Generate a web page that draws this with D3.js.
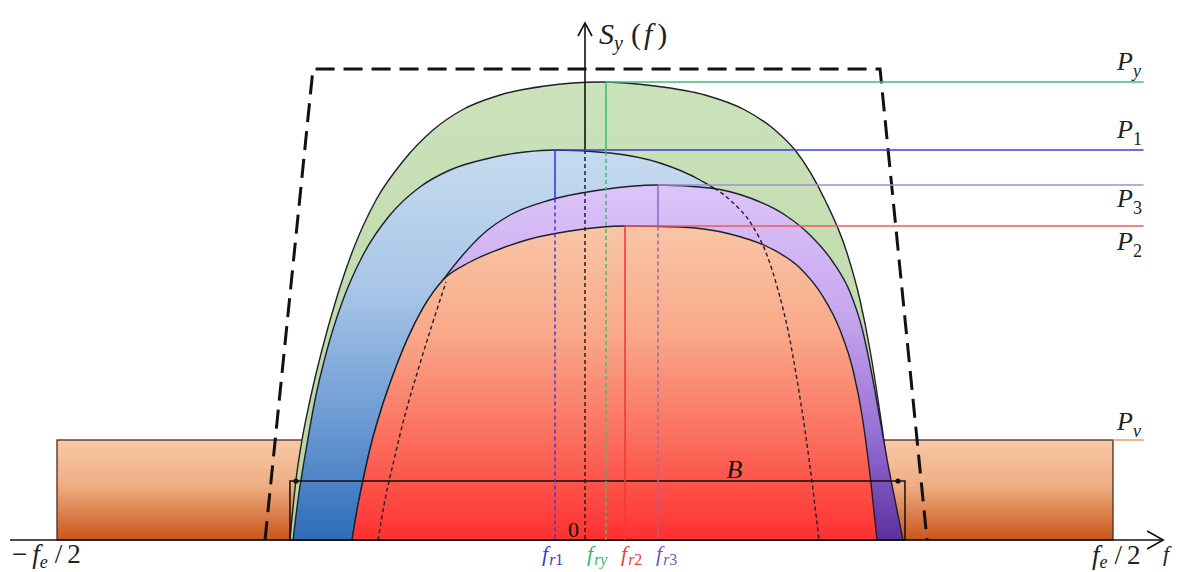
<!DOCTYPE html>
<html><head><meta charset="utf-8">
<script src="https://cdn.jsdelivr.net/npm/d3@7"></script>
<style>html,body{margin:0;padding:0;background:#fff;} svg{display:block;}</style>
</head><body>
<svg id="chart" width="1177" height="572"></svg>
<script>
// ---------- data (f in % of fe, S in arbitrary power units) ----------
const spectrumPy = [[-27.94,0],[-27.37,12],[-26.80,20],[-26.04,28],[-24.91,38],[-23.58,48],[-21.97,58],[-19.79,68],[-17.14,76],[-14.39,82],[-11.65,86],[-8.05,89],[-3.79,90.8],[1.42,91.6],[6.63,90.8],[11.36,89],[15.15,86],[17.99,82],[19.89,78],[22.73,68],[24.72,58],[26.04,48],[26.99,38],[27.75,28],[28.41,18],[28.88,8],[29.26,0]];
const spectrumP1 = [[-27.65,0],[-27.18,8],[-26.42,18],[-25.57,28],[-24.43,38],[-22.92,48],[-21.02,57],[-18.47,65],[-15.63,70.6],[-12.78,74],[-9.00,76.4],[-5.68,77.6],[-2.84,78],[2.37,77.4],[7.10,75.4],[10.89,72],[13.73,68],[15.81,63],[17.23,57],[18.28,50],[19.22,42],[20.08,32],[20.83,22],[21.59,10],[22.16,0]];
const spectrumP3 = [[-22.06,0],[-21.59,6],[-21.02,12],[-20.27,19],[-19.32,26],[-18.18,33],[-16.86,40],[-15.34,46.4],[-13.45,52],[-11.65,56.8],[-9.66,61.2],[-7.10,65],[-3.31,68],[1.42,70],[6.91,71],[11.84,70.4],[15.63,68.4],[18.94,65],[21.31,61],[23.48,55.6],[25.09,49.6],[26.23,42.4],[27.18,33],[28.03,23],[28.79,14],[29.45,7],[30.11,0]];
const spectrumP2 = [[-22.06,0],[-21.59,6],[-21.02,12],[-20.27,19],[-19.32,26],[-18.18,33],[-16.86,40],[-15.34,46.4],[-13.45,52],[-10.89,55.6],[-8.05,58.2],[-5.21,60.2],[-1.42,61.8],[3.79,62.8],[9.00,62.6],[13.73,61.2],[17.52,58.4],[20.36,54.4],[22.44,49],[24.15,42],[25.38,34],[26.23,25],[26.99,13],[27.65,0]];
const hiddenEdgeP2 = [[-19.60,0],[-18.94,8],[-18.09,16],[-17.05,25],[-15.81,34],[-14.49,43],[-13.16,51.6]];
const filterMask = [[-30.30,0],[-25.76,94.2],[27.94,94.2],[32.39,0]];
const noiseBand = {f0:-50, f1:50, level:20};
const bandB = {f0:-27.94, f1:30.30, level:11.8, a0:-27.37, a1:29.64};
const levelNames = ["y","1","3","2","v"];
const levelValues = [91.6, 78, 71, 62.8, 20];
const levelStartF = [1.99, -2.84, 6.91, 3.79, 50];
const levelEndF = 52.9;
const peakNames = ["r1","ry","r2","r3"];
const peakF = [-2.84, 1.99, 3.79, 6.91];
const peakTop = [78, 91.6, 62.8, 71];
const peakSolidTo = [68.3, 77.6, 0, 62.7];

// ---------- scales ----------
const svg = d3.select("#chart");
const x = d3.scaleLinear().domain([-50,50]).range([57,1113]);
const y = d3.scaleLinear().domain([0,100]).range([540,40]);
const smooth = d3.line().x(d=>x(d[0])).y(d=>y(d[1])).curve(d3.curveMonotoneX);
const straight = d3.line().x(d=>x(d[0])).y(d=>y(d[1]));
const FONT = "'Liberation Serif','DejaVu Serif',serif";

const defs = svg.append("defs");
function grad(id, stops, top){
  const g = defs.append("linearGradient").attr("id",id).attr("gradientUnits","userSpaceOnUse")
    .attr("x1",0).attr("x2",0).attr("y1",y(top)).attr("y2",y(0));
  stops.forEach(s=>g.append("stop").attr("offset",s[0]).attr("stop-color",s[1]));
}
grad("gNoise",[[0,"#f8c9a6"],[0.45,"#efae84"],[1,"#c9561a"]],noiseBand.level);
grad("gPy",[[0,"#cbe2bb"],[1,"#b6d69e"]],91.6);
grad("gP1",[[0,"#c6dbf0"],[0.35,"#a9c6e8"],[0.7,"#6b9ad3"],[1,"#2d6db8"]],78);
grad("gP3",[[0,"#dcc4f8"],[0.35,"#c9a8f0"],[0.7,"#9670d4"],[1,"#5c2f9e"]],71);
grad("gP2",[[0,"#f8c6a6"],[0.35,"#f9a888"],[0.7,"#fc6a5a"],[1,"#ff3030"]],62.8);
defs.append("clipPath").attr("id","clipP3").append("path").attr("d",smooth(spectrumP3)+"Z");

// noise floor rectangle
svg.append("rect").attr("x",x(noiseBand.f0)).attr("y",y(noiseBand.level))
  .attr("width",x(noiseBand.f1)-x(noiseBand.f0)).attr("height",y(0)-y(noiseBand.level))
  .attr("fill","url(#gNoise)").attr("stroke","#4a2c1c").attr("stroke-width",1.3);

// filter mask (dashed trapezoid)
svg.append("path").attr("d",straight(filterMask)).attr("fill","none")
  .attr("stroke","#111").attr("stroke-width",3).attr("stroke-dasharray","19,9");

// spectra
function shape(data, fillId){
  svg.append("path").attr("d",smooth(data)+"Z").attr("fill",`url(#${fillId})`);
  svg.append("path").attr("d",smooth(data)).attr("fill","none").attr("stroke","#1f1f2a").attr("stroke-width",1.4);
}
shape(spectrumPy,"gPy");
shape(spectrumP1,"gP1");
shape(spectrumP3,"gP3");
shape(spectrumP2,"gP2");
// hidden edges (dashed)
svg.append("path").attr("d",smooth(spectrumP1)).attr("fill","none").attr("clip-path","url(#clipP3)")
  .attr("stroke","#1f1f2a").attr("stroke-width",1.4).attr("stroke-dasharray","4,3");
svg.append("path").attr("d",smooth(hiddenEdgeP2)).attr("fill","none")
  .attr("stroke","#1f1f2a").attr("stroke-width",1.4).attr("stroke-dasharray","4,3");

// bandwidth B
svg.append("rect").attr("x",x(bandB.f0)).attr("y",y(bandB.level))
  .attr("width",x(bandB.f1)-x(bandB.f0)).attr("height",y(0)-y(bandB.level))
  .attr("fill","none").attr("stroke","#111").attr("stroke-width",1.5);
[bandB.a0,bandB.a1].forEach(f=>svg.append("circle").attr("cx",x(f)).attr("cy",y(bandB.level)).attr("r",2.6).attr("fill","#111"));
svg.append("text").attr("x",x(13.4)).attr("y",y(12.4)).attr("font-family",FONT).attr("font-style","italic")
  .attr("font-size",26).attr("fill","#111").text("B");

// axes
const xAxisL = -54.45, xAxisR = 54.75, yAxisTop = 103.4;
svg.append("line").attr("x1",x(xAxisL)).attr("x2",x(xAxisR)).attr("y1",y(0)).attr("y2",y(0)).attr("stroke","#111").attr("stroke-width",1.6);
svg.append("path").attr("d",`M${x(xAxisR)-16},${y(0)-9}L${x(xAxisR)},${y(0)}L${x(xAxisR)-16},${y(0)+9}`).attr("fill","none").attr("stroke","#111").attr("stroke-width",1.6);
svg.append("line").attr("x1",x(0)).attr("x2",x(0)).attr("y1",y(yAxisTop)).attr("y2",y(78)).attr("stroke","#111").attr("stroke-width",1.6);
svg.append("line").attr("x1",x(0)).attr("x2",x(0)).attr("y1",y(78)).attr("y2",y(0)).attr("stroke","#222").attr("stroke-width",1.5).attr("stroke-dasharray","4,3");
svg.append("path").attr("d",`M${x(0)-7},${y(yAxisTop)+13}L${x(0)},${y(yAxisTop)}L${x(0)+7},${y(yAxisTop)+13}`).attr("fill","none").attr("stroke","#111").attr("stroke-width",1.6);

// level lines
const levelColors = ["#3cbf78","#3b3be0","#a48dd0","#f25a5a","#f0a070"];
levelValues.forEach((v,i)=>{
  svg.append("line").attr("x1",x(levelStartF[i])).attr("x2",x(levelEndF)).attr("y1",y(v)).attr("y2",y(v))
    .attr("stroke",levelColors[i]).attr("stroke-width",1.6);
});
// peak verticals
const peakColors = ["#3b3be0","#3cbf78","#f03a3a","#8a6cc8"];
peakF.forEach((f,i)=>{
  svg.append("line").attr("x1",x(f)).attr("x2",x(f)).attr("y1",y(peakTop[i])).attr("y2",y(peakSolidTo[i]))
    .attr("stroke",peakColors[i]).attr("stroke-width",1.6);
  if(peakSolidTo[i]>0) svg.append("line").attr("x1",x(f)).attr("x2",x(f)).attr("y1",y(peakSolidTo[i])).attr("y2",y(0))
    .attr("stroke",peakColors[i]).attr("stroke-width",1.5).attr("stroke-dasharray","4,3");
});

// level labels
const levelLabelY = [70,138,207,250,430];
levelNames.forEach((n,i)=>{
  const t = svg.append("text").attr("x",1117).attr("y",levelLabelY[i]).attr("font-family",FONT)
    .attr("font-style","italic").attr("font-size",26).attr("fill","#222").text("P");
  t.append("tspan").attr("dy",7).attr("font-size",18).attr("font-style",/\d/.test(n)?"normal":"italic").text(n);
});

// axis labels
const sy = svg.append("text").attr("x",599).attr("y",44).attr("font-family",FONT).attr("font-size",30).attr("fill","#222");
sy.append("tspan").attr("font-style","italic").text("S");
sy.append("tspan").attr("font-style","italic").attr("font-size",20).attr("dy",6).text("y");
sy.append("tspan").attr("dy",-6).attr("dx",8).text("(");
sy.append("tspan").attr("font-style","italic").attr("dx",3).text("f");
sy.append("tspan").attr("dx",5).text(")");

svg.append("text").attr("x",x(0)-17).attr("y",537).attr("font-family",FONT).attr("font-size",22).attr("fill","#111").text("0");

const fl = svg.append("text").attr("x",12).attr("y",563).attr("font-family",FONT).attr("font-size",27).attr("fill","#222");
fl.append("tspan").text("−");
fl.append("tspan").attr("font-style","italic").attr("dx",5).text("f");
fl.append("tspan").attr("font-style","italic").attr("font-size",18).attr("dy",5).text("e");
fl.append("tspan").attr("dy",-5).attr("dx",7).text("/");
fl.append("tspan").attr("dx",5).text("2");
const fr = svg.append("text").attr("x",1092).attr("y",564).attr("font-family",FONT).attr("font-size",27).attr("fill","#222");
fr.append("tspan").attr("font-style","italic").text("f");
fr.append("tspan").attr("font-style","italic").attr("font-size",18).attr("dy",4).text("e");
fr.append("tspan").attr("dy",-4).attr("dx",7).text("/");
fr.append("tspan").attr("dx",5).text("2");
svg.append("text").attr("x",1163).attr("y",561).attr("font-family",FONT).attr("font-style","italic").attr("font-size",22).attr("fill","#222").text("f");

const peakLabelX = [542,587,621,656];
const peakLabelColors = ["#3b3bd6","#3cb371","#ee3b3b","#7b55c0"];
peakNames.forEach((n,i)=>{
  const t = svg.append("text").attr("x",peakLabelX[i]).attr("y",561).attr("font-family",FONT)
    .attr("font-size",22).attr("fill",peakLabelColors[i]);
  t.append("tspan").attr("font-style","italic").text("f");
  t.append("tspan").attr("font-style","italic").attr("font-size",16).attr("dy",4).attr("dx",1).text("r");
  t.append("tspan").attr("font-size",16).attr("font-style",/\d/.test(n[1])?"normal":"italic").text(n[1]);
});
</script>
</body></html>
